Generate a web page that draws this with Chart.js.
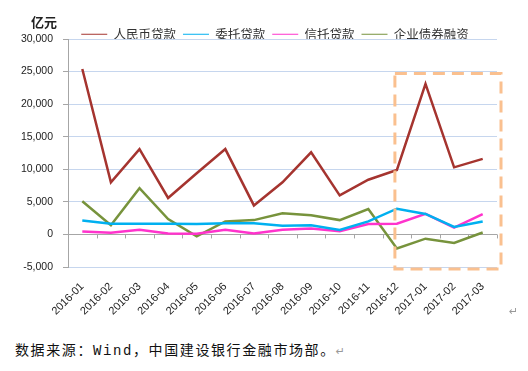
<html>
<head>
<meta charset="utf-8">
<style>
  body { margin: 0; background: #fff; width: 528px; height: 371px; position: relative; overflow: hidden; }
  #wrap { position: absolute; left: 0; top: 0; width: 528px; height: 320px; }
  #unit { position: absolute; left: 31px; top: 13px; font: bold 13px "Noto Sans CJK SC", sans-serif; color: #222; line-height: 18px; }
  #src { position: absolute; left: 15px; top: 341px; font: 14px "Liberation Mono", "Noto Sans CJK SC", monospace; letter-spacing: 1.6px; color: #111; line-height: 20px; white-space: nowrap; }
  .ret { color: #999; font-size: 11px; font-family: "DejaVu Sans", sans-serif; }
  #ret2 { position: absolute; left: 509px; top: 305px; }
</style>
<script src="https://cdn.jsdelivr.net/npm/chart.js"></script>
</head>
<body>
<div id="wrap"><canvas id="myChart"></canvas></div>
<div id="unit">亿元</div>
<div id="src">数据来源：Wind，中国建设银行金融市场部。<span class="ret">↵</span></div>
<div id="ret2" class="ret">↵</div>
<script>
    var months = ["2016-01", "2016-02", "2016-03", "2016-04", "2016-05", "2016-06", "2016-07", "2016-08",
        "2016-09", "2016-10", "2016-11", "2016-12", "2017-01", "2017-02", "2017-03"];
    var rmbLoans = [25400, 8000, 13100, 5600, 9400, 13100, 4450, 8000, 12600, 6000, 8400, 9900, 23100, 10300, 11600];
    var entrustedLoans = [2150, 1650, 1650, 1650, 1600, 1700, 1700, 1350, 1400, 700, 2000, 3950, 3150, 1150, 2000];
    var trustLoans = [450, 250, 700, 150, 100, 700, 150, 700, 900, 500, 1600, 1650, 3150, 1050, 3100];
    var bondFinancing = [5100, 1400, 7100, 2350, -300, 2000, 2200, 3250, 2950, 2200, 3900, -2150, -650, -1300, 300];
    var seriesNames = ["人民币贷款", "委托贷款", "信托贷款", "企业债券融资"];

    // dashed box around the last few months
    var boxFrom = 11;   // 2016-12
    var boxTop = 24700, boxBottom = -5300;
    var legendCenter = 275;

    var extras = {
        id: "extras",
        beforeUpdate: function (chart) {
            var lg = chart.legend;
            if (lg && !lg._short) {
                var fit = lg.fit.bind(lg);
                lg.fit = function () { fit(); this.height = 18; };
                lg._short = true;
            }
        },
        afterLayout: function (chart) {
            var lg = chart.legend;
            var dx = legendCenter - (lg.left + lg.right) / 2;
            lg.left += dx;
            lg.right += dx;
        },
        beforeDatasetsDraw: function (chart) {
            var x = chart.scales.x, y = chart.scales.y, ctx = chart.ctx;
            var y0 = y.getPixelForValue(0);
            var step = x.getPixelForValue(1) - x.getPixelForValue(0);
            ctx.save();
            ctx.strokeStyle = "#a6a6a6";
            ctx.lineWidth = 1;
            ctx.beginPath();
            for (var i = 0; i < months.length; i++) {
                var px = Math.round(x.getPixelForValue(i) + step / 2) + 0.5;
                ctx.moveTo(px, y0);
                ctx.lineTo(px, y0 + 4);
            }
            ctx.stroke();
            ctx.restore();
        },
        afterDraw: function (chart) {
            var x = chart.scales.x, y = chart.scales.y, ctx = chart.ctx;
            var left = x.getPixelForValue(boxFrom) - 2;
            var right = chart.chartArea.right + 4;
            var top = y.getPixelForValue(boxTop);
            var bottom = y.getPixelForValue(boxBottom);
            ctx.save();
            ctx.strokeStyle = "#fac08f";
            ctx.lineWidth = 3;
            ctx.setLineDash([12, 7]);
            ctx.strokeRect(left, top, right - left, bottom - top);
            ctx.restore();
        }
    };

    new Chart("myChart", {
        type: "line",
        data: {
            labels: months,
            datasets: [
                { label: seriesNames[0], data: rmbLoans, borderColor: "#a5342f", backgroundColor: "#a5342f" },
                { label: seriesNames[1], data: entrustedLoans, borderColor: "#00b0f0", backgroundColor: "#00b0f0" },
                { label: seriesNames[2], data: trustLoans, borderColor: "#ff33cc", backgroundColor: "#ff33cc" },
                { label: seriesNames[3], data: bondFinancing, borderColor: "#77933c", backgroundColor: "#77933c" }
            ]
        },
        options: {
            responsive: true,
            maintainAspectRatio: false,
            animation: false,
            layout: { padding: { top: 21, left: 8, right: 31, bottom: 0 } },
            elements: {
                line: { borderWidth: 2.5, tension: 0 },
                point: { radius: 0 }
            },
            plugins: {
                legend: {
                    position: "top",
                    labels: {
                        usePointStyle: true,
                        pointStyle: "line",
                        pointStyleWidth: 26,
                        boxHeight: 12,
                        padding: 7,
                        color: "#333",
                        font: { family: "'Noto Sans CJK SC', sans-serif", size: 12.5 }
                    }
                },
                tooltip: { enabled: false }
            },
            scales: {
                x: {
                    offset: true,
                    grid: { display: false, drawTicks: false },
                    border: { display: false },
                    ticks: {
                        autoSkip: false,
                        maxRotation: 45,
                        minRotation: 45,
                        padding: 13,
                        color: "#222",
                        font: { family: "'Liberation Sans', Arial, sans-serif", size: 11 }
                    },
                    afterFit: function (s) { s.height = 53; }
                },
                y: {
                    min: -5000,
                    max: 30000,
                    grid: {
                        color: function (c) { return c.tick && c.tick.value === 0 ? "#a6a6a6" : "#c6d6ee"; },
                        tickColor: "#a6a6a6",
                        tickLength: 5
                    },
                    border: { display: true, color: "#a6a6a6" },
                    ticks: {
                        stepSize: 5000,
                        padding: 10,
                        color: "#222",
                        font: { family: "'Liberation Sans', Arial, sans-serif", size: 10.5 },
                        callback: function (v) { return v.toLocaleString("en-US"); }
                    },
                    afterFit: function (s) { s.width = 60; }
                }
            }
        },
        plugins: [extras]
    });
</script>
</body>
</html>
